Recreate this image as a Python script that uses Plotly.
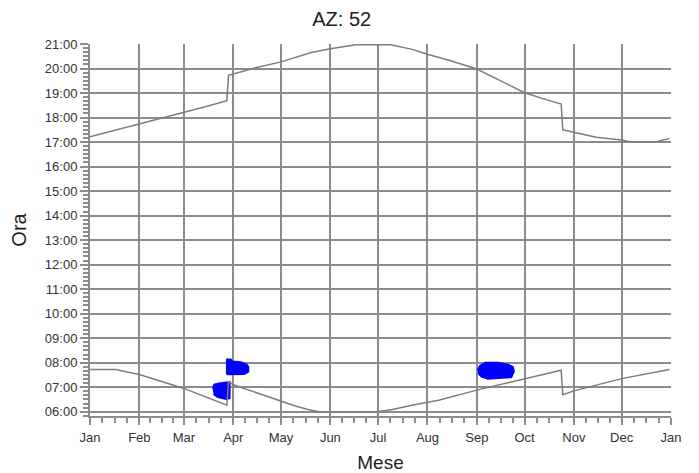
import pandas as pd
import plotly.graph_objects as go

# ---------------- data ----------------
month_labels = ["Jan", "Feb", "Mar", "Apr", "May", "Jun", "Jul", "Aug", "Sep", "Oct", "Nov", "Dec", "Jan"]

sunset_dates = ["2015-01-01", "2015-01-15", "2015-02-01", "2015-02-15", "2015-03-01", "2015-03-15",
                "2015-03-28", "2015-03-29", "2015-04-01", "2015-04-15", "2015-05-01", "2015-05-12",
                "2015-05-20", "2015-06-01", "2015-06-08", "2015-06-17", "2015-07-09", "2015-07-23",
                "2015-08-01", "2015-08-08", "2015-08-15", "2015-09-01", "2015-09-15", "2015-10-01",
                "2015-10-15", "2015-10-24", "2015-10-25", "2015-11-01", "2015-11-15", "2015-12-01",
                "2015-12-06", "2015-12-23", "2015-12-31"]
sunset_hours = [17.22, 17.45, 17.73, 17.98, 18.22, 18.45,
                18.69, 19.72, 19.78, 20.03, 20.27, 20.50,
                20.65, 20.81, 20.89, 20.97, 20.97, 20.77,
                20.58, 20.46, 20.33, 19.98, 19.52, 19.01,
                18.72, 18.55, 17.50, 17.40, 17.20, 17.08,
                17.01, 17.01, 17.15]

sunrise_dates = ["2015-01-01", "2015-01-17", "2015-02-01", "2015-03-01", "2015-03-28", "2015-03-29",
                 "2015-04-01", "2015-05-01", "2015-05-10", "2015-05-18", "2015-05-25", "2015-06-30",
                 "2015-07-10", "2015-07-23", "2015-08-08", "2015-09-01", "2015-10-01", "2015-10-24",
                 "2015-10-25", "2015-11-01", "2015-12-01", "2015-12-31"]
sunrise_hours = [7.72, 7.72, 7.52, 6.95, 6.27, 7.24,
                 7.10, 6.45, 6.23, 6.09, 6.00, 6.00,
                 6.09, 6.27, 6.47, 6.88, 7.35, 7.69,
                 6.69, 6.85, 7.35, 7.72]

blob1_dates = ["2015-03-19 00:00", "2015-03-20 00:00", "2015-03-23 00:00", "2015-03-28 00:00", "2015-03-29 20:00",
               "2015-03-29 20:00", "2015-03-27 10:00", "2015-03-22 00:00", "2015-03-19 14:00"]
blob1_hours = [6.95, 7.11, 7.16, 7.19, 7.22, 6.54, 6.51, 6.60, 6.72]

blob2_dates = ["2015-03-27 10:00", "2015-03-30 12:00", "2015-03-31 14:00", "2015-04-05 19:00",
               "2015-04-09 10:00", "2015-04-10 14:00", "2015-04-10 14:00", "2015-04-07 22:00",
               "2015-03-28 10:00", "2015-03-27 10:00"]
blob2_hours = [8.14, 8.14, 8.06, 8.03, 7.93, 7.83, 7.63, 7.53, 7.52, 7.56]

blob3_dates = ["2015-09-01 10:00", "2015-09-02 19:00", "2015-09-06 10:00", "2015-09-14 07:00",
               "2015-09-20 14:00", "2015-09-23 19:00", "2015-09-24 10:00", "2015-09-22 19:00",
               "2015-09-14 07:00", "2015-09-08 00:00", "2015-09-03 22:00", "2015-09-01 19:00"]
blob3_hours = [7.69, 7.87, 8.01, 8.01, 7.93, 7.83, 7.63, 7.40, 7.36, 7.33, 7.42, 7.56]

# ---------------- helpers ----------------
BASE = pd.Timestamp("2015-01-01")


def to_time(hours):
    return [BASE + pd.Timedelta(hours=h) for h in hours]


def to_dates(strings):
    return [pd.Timestamp(s) for s in strings]


GRID = "#8c8c8c"
LINE = "#7d7d7d"
BLUE = "#0000ff"
FONT = "Liberation Sans, Arial, sans-serif"

fig = go.Figure()

for d, h in [(blob1_dates, blob1_hours), (blob2_dates, blob2_hours), (blob3_dates, blob3_hours)]:
    fig.add_trace(go.Scatter(x=to_dates(d), y=to_time(h), mode="lines", fill="toself",
                             fillcolor=BLUE, line=dict(color=BLUE, width=1.5),
                             hoverinfo="skip", showlegend=False))

for d, h in [(sunset_dates, sunset_hours), (sunrise_dates, sunrise_hours)]:
    fig.add_trace(go.Scatter(x=to_dates(d), y=to_time(h), mode="lines",
                             line=dict(color=LINE, width=1.5), showlegend=False))

# minor x ticks: three per month
month_starts = pd.date_range("2015-01-01", "2016-01-01", freq="MS")
minor_x = []
for a, b in zip(month_starts[:-1], month_starts[1:]):
    for k in (1, 2, 3):
        minor_x.append(a + (b - a) * k / 4)

W, H = 691, 465  # page body has an 8px margin

fig.update_layout(
    width=W, height=H,
    margin=dict(l=82, r=28, t=36, b=57, autoexpand=False),
    paper_bgcolor="white", plot_bgcolor="white",
    font=dict(family=FONT, size=13, color="#333333"),
    title=dict(text="AZ: 52", x=(341.7 - 8) / W, xref="container", xanchor="center",
               y=1 - 10.5 / H, yref="container", yanchor="middle",
               font=dict(size=20, color="#222222")),
    showlegend=False,
)

fig.update_xaxes(
    type="date", range=["2015-01-01", "2016-01-01"], automargin=False,
    tick0="2015-01-01", dtick="M1", tickformat="%b",
    showgrid=True, gridcolor=GRID, gridwidth=2,
    showline=True, linecolor=GRID, linewidth=2, zeroline=False,
    ticks="outside", ticklen=7, tickwidth=2, tickcolor=GRID,
    ticklabelstandoff=1,
    tickfont=dict(size=13, color="#333333"),
    minor=dict(tickmode="array", tickvals=minor_x, ticks="outside", ticklen=5,
               tickwidth=1.5, tickcolor=GRID, showgrid=False),
    title=dict(text="Mese", font=dict(size=19, color="#222222"), standoff=12),
)

fig.update_yaxes(
    type="date", automargin=False,
    range=[BASE + pd.Timedelta(hours=5.825), BASE + pd.Timedelta(hours=21)],
    tick0=BASE + pd.Timedelta(hours=6), dtick=3600000, tickformat="%H:%M",
    showgrid=True, gridcolor=GRID, gridwidth=2,
    showline=True, linecolor=GRID, linewidth=2, zeroline=False,
    ticks="outside", ticklen=8, tickwidth=2, tickcolor=GRID,
    tickfont=dict(size=13, color="#333333"),
    minor=dict(dtick=600000, tick0=BASE + pd.Timedelta(hours=6), ticks="outside",
               ticklen=5, tickwidth=1.5, tickcolor=GRID, showgrid=False),
    title=dict(text="Ora", font=dict(size=20, color="#222222"), standoff=15),
)

fig.write_html("out.html")
